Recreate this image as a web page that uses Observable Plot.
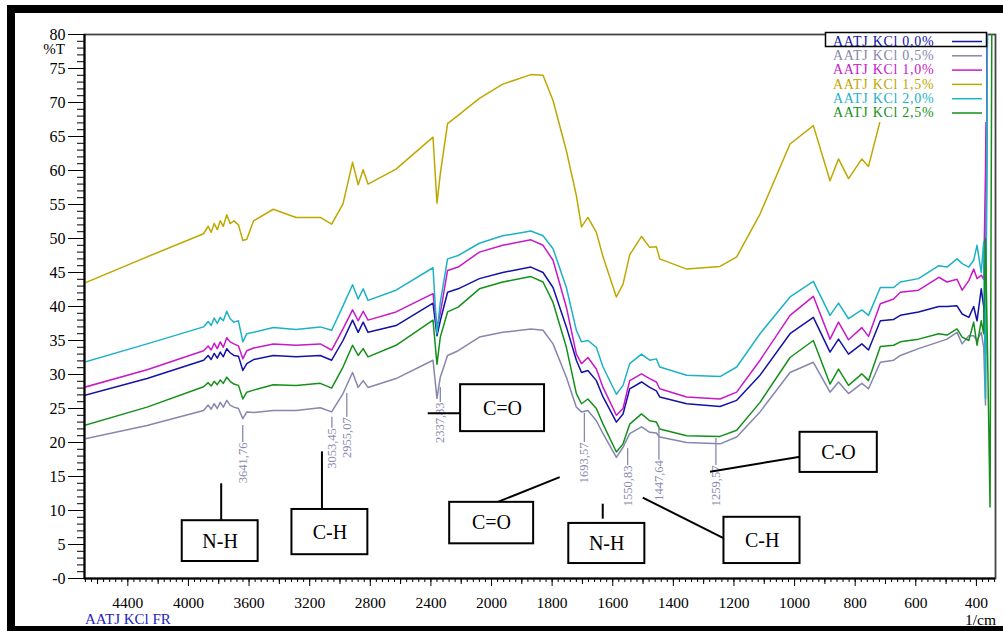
<!DOCTYPE html>
<html><head><meta charset="utf-8">
<script src="https://cdn.jsdelivr.net/npm/d3@7"></script>
<script src="https://cdn.jsdelivr.net/npm/@observablehq/plot@0.6"></script>
<style>
html,body{margin:0;padding:0;background:#fff;}
#chart{position:relative;width:1003px;height:631px;overflow:hidden;}
</style></head><body><div id="chart"></div>
<script>
// ---- DATA ----
const wavenumbers = [4690,4273,3900,3870,3850,3830,3810,3790,3770,3747,3725,3700,3670,3641,3615,3570,3440,3290,3130,3055,
  2980,2917,2880,2847,2815,2630,2386,2360,2338,2290,2220,2080,1963,1870,1830,1797,1753,1720,1703,1682,
  1654,1632,1588,1566,1544,1505,1478,1456,1445,1356,1246,1191,1114,1015,938,883,855,822,778,756,
  717,673,651,591,524,497,464,447,425,409,398,384,376,370,362,355,348,337];

const kcl00 = [26.9,29.4,32.1,32.8,32.2,33.1,32.4,33.3,32.6,33.8,33.2,32.8,32.7,30.6,31.6,32.2,32.8,32.6,32.8,32.1,
  35.0,38.0,36.2,37.7,36.2,37.2,40.5,35.7,37.9,42.1,42.6,44.1,45.0,45.8,45.0,42.8,37.0,32.1,30.3,30.6,
  29.1,26.7,23.0,24.2,27.9,28.9,28.1,27.6,26.7,25.7,25.3,26.2,29.9,36.0,38.4,33.3,35.2,33.0,34.5,33.6,
  37.9,38.1,38.7,39.2,40.0,40.0,40.1,38.9,38.4,40.0,37.9,42.6,40.0,33.0,95,95,95,95];
const kcl05 = [20.5,22.5,24.7,25.5,24.9,25.7,25.0,25.9,25.2,26.2,25.5,25.2,25.0,23.5,24.5,24.4,24.7,24.7,25.1,24.5,
  27.2,30.3,28.1,29.1,28.1,29.4,32.1,26.5,29.6,32.8,33.5,35.5,36.2,36.7,36.5,34.5,29.6,25.2,24.5,24.7,
  23.2,21.3,17.8,19.3,21.3,22.3,21.5,21.4,20.8,20.0,19.8,20.8,24.5,30.3,31.8,27.4,28.9,27.2,28.7,27.9,
  31.8,32.1,32.8,33.8,34.8,35.2,36.2,34.5,35.7,35.7,35.0,36.2,34.0,25.5,95,95,95,95];
const kcl10 = [28.1,30.7,33.5,34.2,33.6,34.6,33.8,34.8,34.0,35.4,34.8,34.5,34.2,32.3,33.5,33.9,34.5,34.3,34.5,33.6,
  36.7,39.5,37.9,39.3,38.0,39.2,41.9,37.0,39.0,45.3,45.8,48.0,49.0,49.8,49.0,46.8,39.9,33.0,31.6,32.5,
  30.8,28.1,24.0,25.0,29.1,30.1,29.4,28.9,27.9,26.7,26.4,27.4,32.1,38.7,41.5,35.2,37.7,35.1,36.9,35.6,
  40.4,41.1,42.1,42.4,44.3,43.6,44.0,42.4,43.8,45.5,44.1,44.6,44.0,60.0,95,95,95,95];
const kcl15 = [43.4,47.3,50.7,51.8,50.9,52.2,51.3,52.6,51.8,53.5,52.2,52.6,52.0,49.7,49.9,52.6,54.3,53.1,53.1,52.1,
  55.1,61.2,57.9,60.1,58.0,60.2,64.9,55.2,59.5,66.9,68.1,70.6,72.7,74.1,74.0,70.3,62.9,56.3,51.7,53.1,
  50.9,47.3,41.4,43.3,47.6,50.3,48.7,48.8,47.0,45.5,45.9,47.3,53.6,63.9,66.6,58.5,61.7,58.8,61.7,60.6,
  67.4,80.0,88.0,92,92,92,92,92,92,92,92,92,92,92,92,92,92,92];
const kcl20 = [31.8,34.5,37.0,37.8,37.2,38.3,37.5,38.4,37.9,39.3,38.2,37.7,37.9,34.8,36.0,36.2,36.9,36.6,37.0,36.5,
  40.1,43.2,41.1,42.6,40.9,42.4,45.7,36.0,40.6,47.0,47.5,49.3,50.4,51.1,50.4,48.5,42.8,36.5,34.8,35.0,
  34.0,31.1,27.1,28.4,31.6,33.0,32.1,32.3,31.1,29.9,29.7,31.1,36.0,41.4,43.7,38.7,40.5,38.2,39.5,38.7,
  42.8,42.8,43.6,44.1,46.0,45.8,47.0,46.3,45.8,46.8,49.0,45.0,49.5,26.5,95,95,95,95];
const kcl25 = [22.5,25.2,28.2,28.8,28.3,29.0,28.5,29.2,28.7,29.6,29.0,28.6,28.4,26.4,27.4,27.7,28.5,28.4,28.7,28.0,
  31.1,34.3,32.8,33.8,32.6,34.3,38.0,31.5,35.5,39.2,39.9,42.6,43.6,44.4,43.6,40.6,34.0,27.2,25.7,26.4,
  25.0,22.7,18.6,19.8,22.7,24.2,23.2,23.0,22.0,21.0,20.9,21.8,25.9,32.5,35.0,28.6,30.8,28.4,30.1,29.1,
  34.1,34.3,34.8,35.2,36.0,35.8,36.7,35.5,35.0,37.7,34.3,37.9,36.0,50.0,30.0,10.5,95,95];

const seriesNames = ["AATJ KCl 0,0%","AATJ KCl 0,5%","AATJ KCl 1,0%","AATJ KCl 1,5%","AATJ KCl 2,0%","AATJ KCl 2,5%"];
const seriesValues = [kcl00,kcl05,kcl10,kcl15,kcl20,kcl25];
const seriesColors = ["#1212a6","#8686ae","#c818c8","#bea800","#1cb2c6","#14901a"];

const xTickValues = [4400,4000,3600,3200,2800,2400,2000,1800,1600,1400,1200,1000,800,600,400];
const yTickValues = [0,5,10,15,20,25,30,35,40,45,50,55,60,65,70,75,80];

// peak labels
const peakWn = [3641.76,3053.45,2955.07,2337.83,1693.57,1550.83,1447.64,1259.57];
const peakLabels = ["3641,76","3053,45","2955,07","2337,83","1693,57","1550,83","1447,64","1259,57"];
const peakTop = [22.5,23.7,27.2,28.1,24.3,19.1,22.2,20.6];
const peakTextTop = [20.0,22.1,23.7,25.9,20.0,16.6,17.4,16.6];

// band annotation boxes
const boxLabels = ["N-H","C-H","C=O","C=O","N-H","C-H","C-O"];
const boxWn1 = [4041,3317,2204,2276,1745,1233,982];
const boxWn2 = [3540,2816,1825,1861,1494,982,727];
const boxT1 = [8.5,10.15,28.5,11.2,8.1,9.0,21.5];
const boxT2 = [2.5,3.5,21.6,5.1,2.2,2.2,15.6];
const boxTextWn = [3791,3066,1964,2000,1620,1107,855];
const boxTextT = [5.5,6.8,25.0,8.2,5.2,5.6,18.5];
// connector lines
const connWn1 = [3784,3119,2421,1983,1633,1501,1279];
const connT1 = [14.0,18.7,24.3,11.2,11.0,11.9,15.7];
const connWn2 = [3784,3119,2204,1775,1633,1233,982];
const connT2 = [8.5,10.15,24.3,14.9,8.8,5.9,17.9];

// ---- axis break: above 2000 1/cm the instrument scale is compressed by 2 ----
const toU = w => w >= 2000 ? 2000 + (w - 2000) / 2 : w;
const fromU = u => u >= 2000 ? 2000 + (u - 2000) * 2 : u;

const rows = seriesValues.flatMap((vals, i) => wavenumbers.map((w, j) => ({u: toU(w), t: vals[j], series: seriesNames[i]})));
const peaks = peakWn.map((w, i) => ({u: toU(w), label: peakLabels[i], t1: peakTop[i], t2: peakTextTop[i]}));
const boxes = boxLabels.map((l, i) => ({label: l, x1: toU(boxWn1[i]), x2: toU(boxWn2[i]), y1: boxT1[i], y2: boxT2[i], tx: toU(boxTextWn[i]), ty: boxTextT[i]}));
const conns = connWn1.map((w, i) => ({x1: toU(w), y1: connT1[i], x2: toU(connWn2[i]), y2: connT2[i]}));

const minorX = d3.range(2040, 4690, 40).concat(d3.range(340, 2000, 20)).map(toU);
const midX = [4600,4200,3800,3400,3000,2600,2200,1900,1700,1500,1300,1100,900,700,500].map(toU);
const minorY = d3.range(0, 81, 1);

const serif = "'Liberation Serif','Times New Roman',serif";
const grey = "#8888b0";
const uLeft = toU(4686), uRight = toU(337);

const svg = Plot.plot({
  width: 1003, height: 631,
  marginLeft: 84, marginRight: 8, marginTop: 34, marginBottom: 53,
  style: {fontFamily: serif, fontSize: "16px", background: "white", color: "black", overflow: "visible"},
  x: {type: "linear", domain: [uLeft, uRight], axis: null},
  y: {domain: [0, 80], axis: null},
  color: {domain: seriesNames, range: seriesColors},
  marks: [
    Plot.frame({stroke: "#444", strokeWidth: 1.8}),
    Plot.axisX({ticks: minorX, tickSize: 4, tickFormat: () => "", stroke: "black"}),
    Plot.axisX({ticks: midX, tickSize: 6, tickFormat: () => "", stroke: "black"}),
    Plot.axisX({ticks: xTickValues.map(toU), tickSize: 8, tickPadding: 10, fontSize: 15.5, stroke: "black", tickFormat: d => String(Math.round(fromU(d)))}),
    Plot.axisY({ticks: minorY, tickSize: 7, tickFormat: () => "", stroke: "black"}),
    Plot.axisY({ticks: yTickValues, tickSize: 16, tickPadding: 3, fontSize: 16, stroke: "black", tickFormat: d => d === 0 ? "-0" : String(d)}),
    Plot.line(rows, {x: "u", y: "t", z: "series", stroke: "series", strokeWidth: 1.5, clip: true}),
    Plot.ruleX([uLeft], {stroke: "black", strokeWidth: 2}),
    Plot.ruleY([0], {stroke: "black", strokeWidth: 2}),
    Plot.ruleX(peaks, {x: "u", y1: "t1", y2: "t2", stroke: grey, strokeWidth: 1.3}),
    Plot.text(peaks, {x: "u", y: "t2", text: "label", rotate: -90, textAnchor: "end", lineAnchor: "middle", fill: grey, fontSize: 12.5, fontFamily: serif}),
    Plot.link(conns, {x1: "x1", y1: "y1", x2: "x2", y2: "y2", stroke: "black", strokeWidth: 2}),
    Plot.rect(boxes, {x1: "x1", x2: "x2", y1: "y1", y2: "y2", fill: "white", stroke: "black", strokeWidth: 2}),
    Plot.text(boxes, {x: "tx", y: "ty", text: "label", fontSize: 20, fontFamily: serif, fill: "black", lineAnchor: "middle"})
  ]
});

// ---- extra chrome (legend, labels, outer frame) ----
const s = d3.select(svg);
const lg = s.append("g").attr("text-anchor", "start");
lg.append("rect").attr("x", 825).attr("y", 31).attr("width", 161).attr("height", 91).attr("fill", "white");
lg.append("rect").attr("x", 825.5).attr("y", 32.5).attr("width", 161).attr("height", 14).attr("fill", "none").attr("stroke", "black").attr("stroke-width", 1.5);
const baseY = [45.8, 60.1, 74.4, 88.7, 103.0, 117.3];
seriesNames.forEach((n, i) => {
  lg.append("text").attr("x", 833).attr("y", baseY[i]).attr("fill", seriesColors[i]).attr("text-anchor", "start")
    .attr("font-family", serif).attr("font-size", 14).attr("letter-spacing", "0.7px").text(n);
  lg.append("line").attr("x1", 952).attr("x2", 982).attr("y1", baseY[i] - 4.3).attr("y2", baseY[i] - 4.3)
    .attr("stroke", seriesColors[i]).attr("stroke-width", 1.5);
});
s.append("text").attr("x", 65).attr("y", 54).attr("text-anchor", "end").attr("font-family", serif).attr("font-size", 15).attr("fill", "black").text("%T");
s.append("text").attr("x", 85).attr("y", 624).attr("text-anchor", "start").attr("font-family", serif).attr("font-size", 15).attr("fill", "#2424bb").text("AATJ KCl FR");
s.append("text").attr("x", 996).attr("y", 625).attr("text-anchor", "end").attr("font-family", serif).attr("font-size", 15.5).attr("fill", "black").text("1/cm");
s.append("rect").attr("x", 11).attr("y", 9).attr("width", 1010).attr("height", 621).attr("fill", "none").attr("stroke", "black").attr("stroke-width", 8);

document.getElementById("chart").appendChild(svg);
</script></body></html>
